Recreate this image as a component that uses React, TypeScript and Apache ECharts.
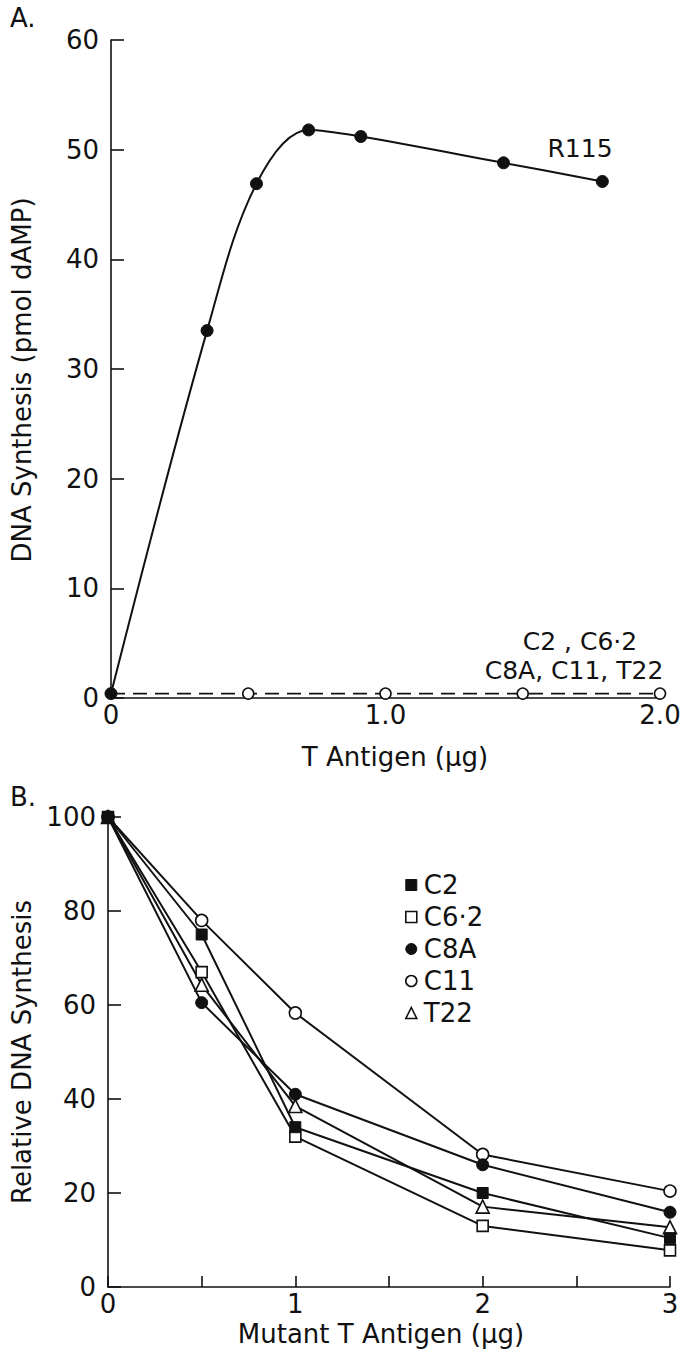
import React, { useEffect, useRef } from "react";
import * as echarts from "echarts";

// Panel A data
const topX = [0, 0.35, 0.53, 0.72, 0.91, 1.43, 1.79];
const r115 = [0.4, 33.5, 46.9, 51.8, 51.2, 48.8, 47.1];
const mutantTopX = [0, 0.5, 1.0, 1.5, 2.0];
const mutantTop = [0.4, 0.4, 0.4, 0.4, 0.4];
const topYTicks = { min: 0, max: 60, interval: 10 };

// Panel B data
const bottomX = [0, 0.5, 1, 2, 3];
const c2 = [100, 75, 34, 20, 10.4];
const c62 = [100, 67, 32, 13, 7.8];
const c8a = [100, 60.5, 41, 26, 15.9];
const c11 = [100, 78, 58.3, 28.2, 20.4];
const t22 = [100, 64.3, 38.5, 17.1, 12.7];
const legendNames = ["C2", "C6·2", "C8A", "C11", "T22"];

const FONT = "DejaVu Sans";
const BLACK = "#111";

function pairs(xs: number[], ys: number[]) {
  return xs.map((x, i) => [x, ys[i]]);
}

export default function App() {
  const ref = useRef<HTMLDivElement>(null);
  useEffect(() => {
    if (!ref.current) return;
    const chart = echarts.init(ref.current, null, { renderer: "svg" });
    const axisLine = { show: true, lineStyle: { color: BLACK, width: 1.6 } };
    const labelStyle = { color: BLACK, fontSize: 26, fontFamily: FONT };
    const filled = { color: BLACK, borderColor: BLACK, borderWidth: 1 };
    const hollow = { color: "#fff", borderColor: BLACK, borderWidth: 1.6 };
    const line = { color: BLACK, width: 2 };

    const mkSeries = (name: string, ys: number[], symbol: string, size: number, style: any) => ({
      name,
      type: "line",
      xAxisIndex: 1,
      yAxisIndex: 1,
      data: pairs(bottomX, ys),
      symbol,
      symbolSize: size,
      showAllSymbol: true,
      itemStyle: style,
      lineStyle: line,
    });

    const option: any = {
      animation: false,
      backgroundColor: "#fff",
      grid: [
        { left: 111, top: 40, width: 549, height: 658 },
        { left: 108, top: 817, width: 562, height: 470 },
      ],
      xAxis: [
        {
          type: "value",
          gridIndex: 0,
          min: 0,
          max: 2,
          interval: 1,
          axisLine,
          axisTick: { show: false },
          splitLine: { show: false },
          axisLabel: {
            ...labelStyle,
            margin: 4,
            formatter: (v: number) => (v === 0 ? "0" : v.toFixed(1)),
          },
        },
        {
          type: "value",
          gridIndex: 1,
          min: 0,
          max: 3,
          interval: 0.5,
          axisLine,
          axisTick: { show: true, inside: true, length: 11, lineStyle: { color: BLACK, width: 1.6 } },
          splitLine: { show: false },
          axisLabel: {
            ...labelStyle,
            margin: 4,
            formatter: (v: number) => (Number.isInteger(v) ? String(v) : ""),
          },
        },
      ],
      yAxis: [
        {
          type: "value",
          gridIndex: 0,
          ...topYTicks,
          axisLine,
          axisTick: { show: true, inside: true, length: 13, lineStyle: { color: BLACK, width: 1.6 } },
          splitLine: { show: false },
          axisLabel: { ...labelStyle, margin: 12 },
        },
        {
          type: "value",
          gridIndex: 1,
          min: 0,
          max: 100,
          interval: 20,
          axisLine,
          axisTick: { show: true, inside: true, length: 13, lineStyle: { color: BLACK, width: 1.6 } },
          splitLine: { show: false },
          axisLabel: { ...labelStyle, margin: 12 },
        },
      ],
      legend: {
        orient: "vertical",
        left: 400,
        top: 867,
        itemWidth: 11,
        itemHeight: 11,
        itemGap: 6,
        textStyle: { color: BLACK, fontSize: 26, fontFamily: FONT, lineHeight: 26, padding: [0, 0, 0, 2] },
        data: [
          { name: "C2", icon: "rect", itemStyle: filled },
          { name: "C6·2", icon: "rect", itemStyle: hollow },
          { name: "C8A", icon: "circle", itemStyle: filled },
          { name: "C11", icon: "circle", itemStyle: hollow },
          { name: "T22", icon: "triangle", itemStyle: hollow },
        ].filter((d) => legendNames.includes(d.name)),
      },
      series: [
        {
          name: "R115",
          type: "line",
          xAxisIndex: 0,
          yAxisIndex: 0,
          data: pairs(topX, r115),
          smooth: 0.35,
          symbol: "circle",
          symbolSize: 12,
          itemStyle: filled,
          lineStyle: line,
          z: 3,
        },
        {
          name: "mutants",
          type: "line",
          xAxisIndex: 0,
          yAxisIndex: 0,
          data: pairs(mutantTopX, mutantTop).map((p, i) =>
            i === 0 ? { value: p, symbol: "none" } : { value: p }
          ),
          symbol: "circle",
          symbolSize: 11,
          itemStyle: hollow,
          lineStyle: { color: BLACK, width: 1.6, type: [14, 8] },
          z: 2,
        },
        mkSeries("C11", c11, "circle", 12, hollow),
        mkSeries("C6·2", c62, "rect", 11, hollow),
        mkSeries("T22", t22, "triangle", 13, hollow),
        mkSeries("C2", c2, "rect", 11, filled),
        mkSeries("C8A", c8a, "circle", 12, filled),
      ],
      graphic: [
        { type: "text", left: 10, top: 5, style: { text: "A.", fontSize: 26, fontFamily: FONT, fill: BLACK } },
        { type: "text", left: 10, top: 784, style: { text: "B.", fontSize: 26, fontFamily: FONT, fill: BLACK } },
        {
          type: "text",
          x: 22,
          y: 380,
          rotation: Math.PI / 2,
          style: {
            text: "DNA Synthesis (pmol dAMP)",
            fontSize: 26,
            fontFamily: FONT,
            fill: BLACK,
            textAlign: "center",
            textVerticalAlign: "middle",
          },
        },
        {
          type: "text",
          x: 22,
          y: 1052,
          rotation: Math.PI / 2,
          style: {
            text: "Relative DNA Synthesis",
            fontSize: 26,
            fontFamily: FONT,
            fill: BLACK,
            textAlign: "center",
            textVerticalAlign: "middle",
          },
        },
        {
          type: "text",
          x: 395,
          y: 757,
          style: { text: "T Antigen (μg)", fontSize: 26, fontFamily: FONT, fill: BLACK, textAlign: "center", textVerticalAlign: "middle" },
        },
        {
          type: "text",
          x: 381,
          y: 1334,
          style: { text: "Mutant T Antigen (μg)", fontSize: 26, fontFamily: FONT, fill: BLACK, textAlign: "center", textVerticalAlign: "middle" },
        },
        {
          type: "text",
          x: 580,
          y: 148,
          style: { text: "R115", fontSize: 25, fontFamily: FONT, fill: BLACK, textAlign: "center", textVerticalAlign: "middle" },
        },
        {
          type: "text",
          x: 580,
          y: 641,
          style: { text: "C2 , C6·2", fontSize: 25, fontFamily: FONT, fill: BLACK, textAlign: "center", textVerticalAlign: "middle" },
        },
        {
          type: "text",
          x: 574,
          y: 670,
          style: { text: "C8A, C11, T22", fontSize: 25, fontFamily: FONT, fill: BLACK, textAlign: "center", textVerticalAlign: "middle" },
        },
      ],
    };
    chart.setOption(option);
    return () => chart.dispose();
  }, []);
  return (
    <div
      ref={ref}
      style={{ position: "absolute", left: 0, top: 0, width: 685, height: 1354, background: "#fff" }}
    />
  );
}
